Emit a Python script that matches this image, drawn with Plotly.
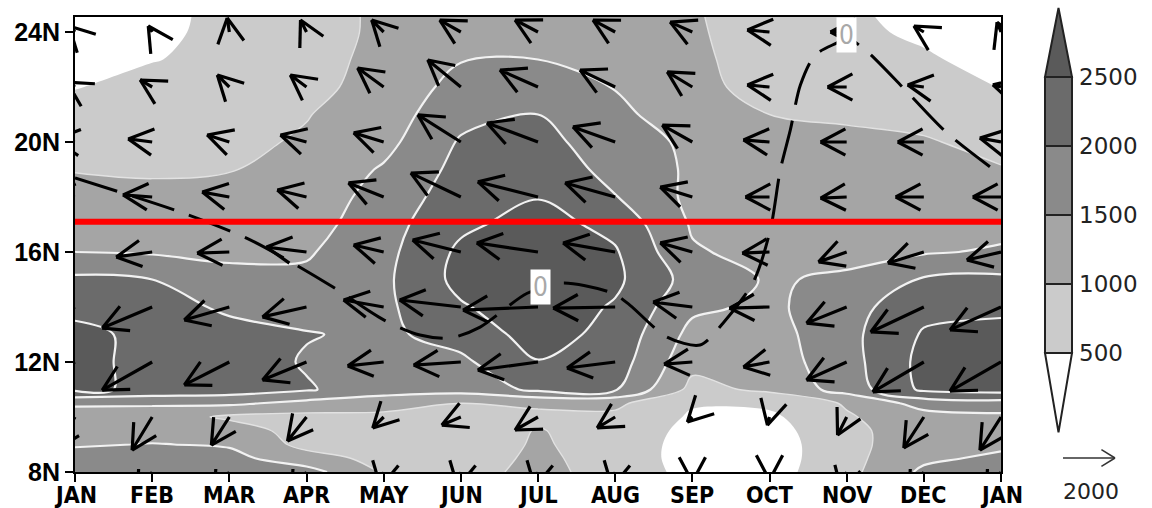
import math
import plotly.graph_objects as go

# ---------------------------------------------------------------- data
MONTH_LABELS = ["JAN", "FEB", "MAR", "APR", "MAY", "JUN", "JUL",
                "AUG", "SEP", "OCT", "NOV", "DEC", "JAN"]
month_pos = list(range(13))

LAT_TICKS = [8, 12, 16, 20, 24]
LAT_LABELS = ["8N", "12N", "16N", "20N", "24N"]

# shaded field: rows = latitude, columns = month (JAN .. JAN)
field_lat = [8, 8.5, 9, 9.5, 10, 10.5, 11, 12, 13, 14, 15, 16,
             17, 18, 19, 20, 21, 22, 23, 24, 25]
field = [
    [1750, 1750, 1750, 1700, 950, 800, 1150, 800, 350, 300, 850, 1600, 1800],
    [1700, 1700, 1650, 1200, 850, 750, 1100, 800, 300, 250, 850, 1400, 1600],
    [1450, 1520, 1450, 850, 780, 750, 1050, 820, 300, 250, 850, 1300, 1400],
    [1300, 1300, 1300, 750, 780, 780, 1020, 850, 350, 300, 880, 1250, 1300],
    [1350, 1300, 900, 850, 850, 850, 930, 900, 440, 400, 950, 1300, 1380],
    [1550, 1550, 1600, 1350, 1250, 1000, 1050, 1100, 540, 600, 1050, 1700, 1800],
    [2600, 2400, 2250, 2050, 1700, 1700, 2100, 2050, 850, 1100, 1700, 2600, 2700],
    [2650, 2350, 2300, 1950, 1850, 1900, 2480, 2250, 1150, 1250, 1800, 2650, 2750],
    [2650, 2350, 2200, 2030, 1900, 2200, 2700, 2350, 1350, 1300, 1850, 2550, 2650],
    [2350, 2250, 1900, 1800, 1900, 2450, 2800, 2450, 1600, 1400, 1800, 2350, 2400],
    [2100, 2000, 1650, 1600, 1900, 2650, 2850, 2600, 1800, 1450, 1580, 2050, 2100],
    [1500, 1450, 1400, 1450, 1850, 2600, 2800, 2550, 1550, 1350, 1350, 1450, 1560],
    [1300, 1300, 1250, 1300, 1800, 2400, 2700, 2350, 1450, 1250, 1250, 1300, 1350],
    [1150, 1100, 1150, 1200, 1700, 2250, 2480, 2020, 1380, 1200, 1200, 1200, 1200],
    [980, 950, 980, 1150, 1550, 2150, 2300, 1850, 1420, 1150, 1150, 1100, 1020],
    [800, 850, 900, 1050, 1350, 2050, 2150, 1750, 1400, 1100, 1080, 1030, 900],
    [680, 750, 800, 980, 1250, 1850, 2000, 1650, 1150, 1000, 950, 900, 700],
    [480, 650, 750, 850, 1200, 1650, 1750, 1480, 1120, 850, 850, 750, 480],
    [330, 480, 620, 800, 1150, 1480, 1500, 1350, 1100, 780, 700, 560, 330],
    [250, 350, 680, 780, 1100, 1350, 1350, 1250, 1080, 700, 600, 420, 250],
    [250, 300, 680, 780, 1100, 1300, 1300, 1250, 1050, 650, 550, 350, 250],
]

levels = [500, 1000, 1500, 2000, 2500]
band_colors = ["#ffffff", "#cbcbcb", "#a5a5a5", "#8a8a8a", "#6b6b6b", "#5a5a5a"]

# flux vectors (east, north components), one row per latitude
vec_lat = [24, 22, 20, 18, 16, 14, 12, 10, 8]
vec_month = list(range(13))
u_flux = [
    [-230, -150, -80, -230, -460, -810, -880, -850, -850, -850, -620, -380, -150],
    [-310, -460, -460, -620, -1000, -1270, -1460, -1350, -960, -850, -730, -620, -310],
    [-770, -920, -850, -1000, -1150, -1650, -1960, -1620, -1150, -1000, -1000, -1000, -810],
    [-960, -1120, -1040, -1120, -1350, -1920, -2310, -1920, -1230, -920, -1000, -1080, -1080],
    [-1380, -1380, -1230, -1540, -1150, -1850, -2350, -2000, -1230, -1040, -1080, -1380, -1310],
    [-1920, -1920, -1730, -1690, -1540, -2350, -2880, -2380, -1500, -1540, -1540, -2040, -1960],
    [-1920, -1920, -1730, -1690, -1380, -1810, -2310, -1850, -1080, -1000, -1540, -1960, -1960],
    [-770, -770, -690, -730, -420, -730, -880, -690, -190, -80, -350, -770, -810],
    [-580, -580, -580, -580, -120, -120, -120, -120, 0, 0, -190, -580, -580],
]
v_flux = [
    [230, 230, 540, 460, 460, 460, 460, 460, 380, 80, 0, 230, 380],
    [190, 270, 460, 460, 730, 1040, 650, 650, 580, 80, 0, 80, 80],
    [80, 120, 270, 270, 350, 1040, 730, 580, 650, 80, 0, 0, 150],
    [80, 80, 190, 270, 540, 920, 580, 540, 380, 0, -40, 0, 0],
    [-190, -190, -40, 190, 270, 460, 350, 350, 350, -40, -380, -420, -310],
    [-770, -810, -500, -380, 270, 270, -120, -40, 190, -40, -620, -960, -880],
    [-1080, -1080, -880, -690, -150, -120, -310, -230, -80, -190, -690, -1150, -1120],
    [-1270, -1270, -1080, -920, -420, -310, -500, -420, -190, -310, -690, -1190, -1270],
    [-960, -960, -960, -960, -580, -580, -580, -580, -380, -310, -770, -960, -960],
]
REF_VECTOR = 2000

# dashed zero line and its labels
zero_month = [0.0, 1.40, 2.27, 3.30, 4.0, 4.47, 4.86, 5.25, 5.86, 6.32, 6.97,
              7.19, 7.67, 8.10, 8.40, 8.79, 9.01, 9.14, 9.27, 9.40, 9.59,
              9.87, 10.0, 10.24, 10.76, 11.30, 12.0]
zero_lat = [18.69, 17.42, 16.44, 14.8, 13.53, 12.98, 12.87, 13.27, 14.5, 14.87,
            14.5, 14.07, 12.91, 12.62, 13.42, 14.91, 16.8, 18.98, 20.44, 22.07,
            23.16, 23.6, 23.78, 23.35, 21.89, 20.33, 18.8]
zero_label_month = [6.03, 10.0]
zero_label_lat = [14.73, 23.9]

RIDGE_LAT = 17.1

# ---------------------------------------------------------------- layout geometry
W, H = 1152, 508
M_L, M_R, M_T, M_B = 75, 2, 5, 36
AREA_W = W - M_L - M_R
AREA_H = H - M_T - M_B
PLOT_W, PLOT_H = 926, 455
X_RANGE = [0, 12]
Y_RANGE = [8, 8 + PLOT_H / 27.5]
px_per_month = PLOT_W / (X_RANGE[1] - X_RANGE[0])
px_per_deg = PLOT_H / (Y_RANGE[1] - Y_RANGE[0])

REF_PX = 52.0
HEAD_LEN = 28.0
HEAD_ANG = math.radians(28)
vec_scale = REF_PX / REF_VECTOR

# ---------------------------------------------------------------- figure
fig = go.Figure()

zmin, zmax = 0, 3000
stops = [zmin] + levels + [zmax]
colorscale = []
for i, c in enumerate(band_colors):
    colorscale.append([(stops[i] - zmin) / (zmax - zmin), c])
    colorscale.append([(stops[i + 1] - zmin) / (zmax - zmin), c])

fig.add_trace(go.Contour(
    x=month_pos, y=field_lat, z=field,
    zmin=zmin, zmax=zmax, zauto=False, colorscale=colorscale,
    contours=dict(start=levels[0], end=levels[-1], size=500,
                  coloring="fill", showlines=False),
    line=dict(width=0, smoothing=1.0),
    showscale=False, hoverinfo="skip"))

fig.add_trace(go.Contour(
    x=month_pos, y=field_lat, z=field,
    contours=dict(start=levels[2], end=levels[-1], size=500, coloring="none"),
    line=dict(color="#f2f2f2", width=2.2, smoothing=1.0),
    showscale=False, hoverinfo="skip"))

fig.add_trace(go.Contour(
    x=month_pos, y=field_lat, z=field,
    contours=dict(start=levels[1], end=levels[1], size=500, coloring="none"),
    line=dict(color="#e2e2e2", width=1.4, smoothing=1.0),
    showscale=False, hoverinfo="skip"))

# arrows: tail at grid point, fixed-size open head
ax, ay = [], []
for i, lat in enumerate(vec_lat):
    for k, m in enumerate(vec_month):
        dx = u_flux[i][k] * vec_scale
        dy = v_flux[i][k] * vec_scale
        L = math.hypot(dx, dy)
        hx = m + dx / px_per_month
        hy = lat + dy / px_per_deg
        ax += [m, hx]
        ay += [lat, hy]
        if L == 0:
            ax.append(None); ay.append(None)
            continue
        bx, by = -dx / L, -dy / L
        for sgn in (1, -1):
            ca, sa = math.cos(HEAD_ANG), sgn * math.sin(HEAD_ANG)
            rx = (bx * ca - by * sa) * HEAD_LEN
            ry = (bx * sa + by * ca) * HEAD_LEN
            ax += [hx, hx + rx / px_per_month, None]
            ay += [hy, hy + ry / px_per_deg, None]
fig.add_trace(go.Scatter(x=ax, y=ay, mode="lines",
                         line=dict(color="black", width=3.2),
                         hoverinfo="skip", showlegend=False))

fig.add_trace(go.Scatter(x=zero_month, y=zero_lat, mode="lines",
                         line=dict(color="black", width=3, dash="44px,16px",
                                   shape="spline", smoothing=0.8),
                         hoverinfo="skip", showlegend=False))

fig.add_trace(go.Scatter(x=X_RANGE, y=[RIDGE_LAT, RIDGE_LAT], mode="lines",
                         line=dict(color="#ff0000", width=6),
                         hoverinfo="skip", showlegend=False))

for m, la in zip(zero_label_month, zero_label_lat):
    fig.add_annotation(x=m, y=la, xref="x", yref="y", text="0", showarrow=False,
                       bgcolor="white", borderpad=2,
                       font=dict(family="Liberation Sans Narrow, DejaVu Sans Condensed, sans-serif",
                                 size=26, color="#a8a8a8"))

# month labels under the axis
for m, name in zip(month_pos, MONTH_LABELS):
    fig.add_annotation(x=m, y=0, xref="x", yref="paper", text=f"<b>{name}</b>",
                       showarrow=False, xanchor="center", yanchor="middle",
                       yshift=-23,
                       font=dict(family="DejaVu Sans Condensed, Liberation Sans, sans-serif",
                                 size=23, color="black"))

# ---------------------------------------------------------------- colour key (x2/y2)
KEY_X0, KEY_X1 = 15, 42          # bar edges in key units (1 unit = 1 px)
KEY_LEFT = 1030                 # px position of the key panel
key_px_per_val = 0.138
key_y_lo = levels[0] - (H - M_B - 353) / key_px_per_val
key_y_hi = levels[0] + (353 - M_T) / key_px_per_val

shapes = []
for i in range(len(levels) - 1):
    shapes.append(dict(type="rect", xref="x2", yref="y2",
                       x0=KEY_X0, x1=KEY_X1, y0=levels[i], y1=levels[i + 1],
                       fillcolor=band_colors[i + 1],
                       line=dict(color="#222222", width=2)))
top_apex = levels[-1] + 500 * 1.0
bot_apex = levels[0] - 500 * 1.15
xc = (KEY_X0 + KEY_X1) / 2
shapes.append(dict(type="path", xref="x2", yref="y2",
                   path=f"M {KEY_X0},{levels[-1]} L {xc},{top_apex} L {KEY_X1},{levels[-1]} Z",
                   fillcolor=band_colors[-1], line=dict(color="#222222", width=2)))
shapes.append(dict(type="path", xref="x2", yref="y2",
                   path=f"M {KEY_X0},{levels[0]} L {xc},{bot_apex} L {KEY_X1},{levels[0]} Z",
                   fillcolor=band_colors[0], line=dict(color="#222222", width=2)))

# reference vector
ref_y = levels[0] - (458 - 353) / key_px_per_val
ref_x0 = 33
ref_x1 = ref_x0 + REF_VECTOR * vec_scale
hl, ha = 16, math.radians(32)
shapes.append(dict(type="line", xref="x2", yref="y2", x0=ref_x0, x1=ref_x1,
                   y0=ref_y, y1=ref_y, line=dict(color="#333333", width=1.5)))
for sgn in (1, -1):
    shapes.append(dict(type="line", xref="x2", yref="y2", x0=ref_x1,
                       x1=ref_x1 - hl * math.cos(ha), y0=ref_y,
                       y1=ref_y + sgn * hl * math.sin(ha) / key_px_per_val,
                       line=dict(color="#333333", width=1.5)))

for lv in levels:
    fig.add_annotation(x=KEY_X1 + 5, y=lv, xref="x2", yref="y2", text=str(lv),
                       showarrow=False, xanchor="left", yanchor="middle",
                       font=dict(family="DejaVu Sans, Liberation Sans, sans-serif",
                                 size=23, color="#222222"))
fig.add_annotation(x=(ref_x0 + ref_x1) / 2 + 2, y=key_y_lo, xref="x2", yref="y2",
                   text=str(REF_VECTOR), showarrow=False, xanchor="center",
                   yanchor="middle", yshift=-19,
                   font=dict(family="DejaVu Sans, Liberation Sans, sans-serif",
                             size=22, color="#222222"))

axis_style = dict(showline=True, linecolor="black", linewidth=2, mirror=True,
                  ticks="outside", ticklen=8, tickwidth=2, tickcolor="black",
                  showgrid=False, zeroline=False, automargin=False)

fig.update_layout(
    width=W, height=H,
    margin=dict(l=M_L, r=M_R, t=M_T, b=M_B, autoexpand=False),
    paper_bgcolor="white", plot_bgcolor="white",
    showlegend=False,
    shapes=shapes,
    xaxis=dict(domain=[0, PLOT_W / AREA_W], range=X_RANGE,
               tickmode="array", tickvals=month_pos, showticklabels=False,
               **axis_style),
    yaxis=dict(domain=[0, PLOT_H / AREA_H], range=Y_RANGE,
               tickmode="array", tickvals=LAT_TICKS,
               ticktext=[f"<b>{t}</b>" for t in LAT_LABELS],
               tickfont=dict(family="Liberation Sans, Arial, sans-serif",
                             size=25, color="black"),
               **axis_style),
    xaxis2=dict(domain=[(KEY_LEFT - M_L) / AREA_W, 1], range=[0, W - M_R - KEY_LEFT],
                visible=False, anchor="y2", automargin=False),
    yaxis2=dict(domain=[0, 1], range=[key_y_lo, key_y_hi], visible=False,
                anchor="x2", automargin=False),
)

fig.write_html("out.html")
